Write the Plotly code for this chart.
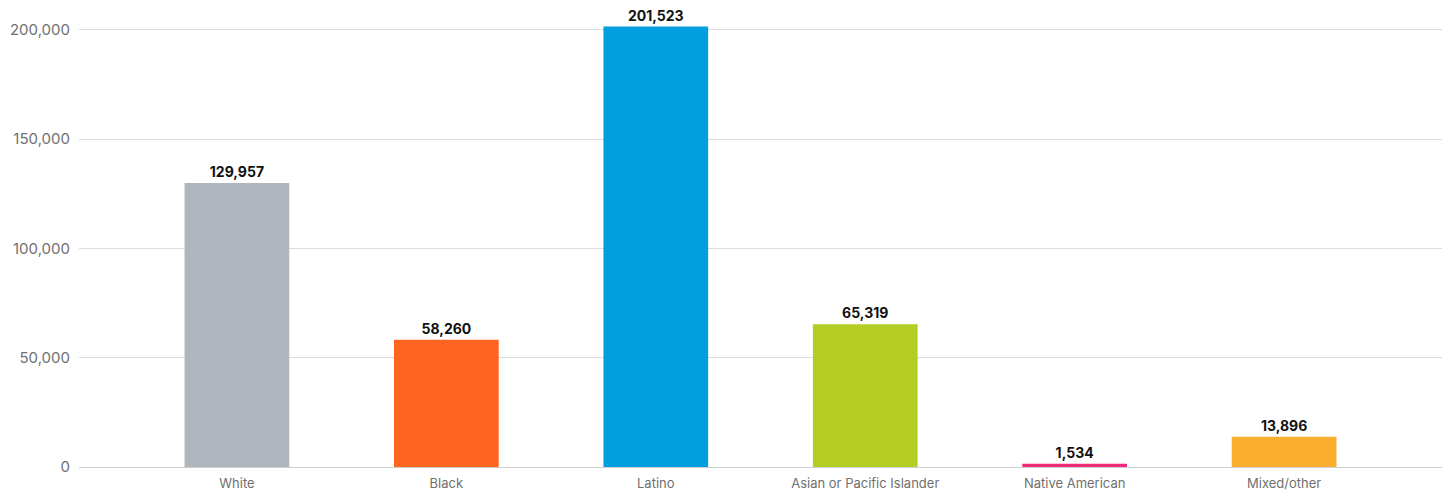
import plotly.graph_objects as go

categories = ["White", "Black", "Latino", "Asian or Pacific Islander", "Native American", "Mixed/other"]
values = [129957, 58260, 201523, 65319, 1534, 13896]
colors = ["#b1b5bd", "#ff6420", "#009fe0", "#b5cc22", "#ee2a7b", "#f9ae2f"]
y_ticks = [0, 50000, 100000, 150000, 200000]
y_tick_labels = ["0", "50,000", "100,000", "150,000", "200,000"]

fig = go.Figure(
    go.Bar(
        x=list(range(len(categories))),
        y=values,
        marker=dict(color=colors, line=dict(width=0)),
        width=0.5,
        text=[f"{v:,}" for v in values],
        textposition="outside",
        cliponaxis=False,
        textfont=dict(family="Inter", size=14, color="#111111", weight="bold"),
    )
)

fig.update_layout(
    width=1452,
    height=496,
    margin=dict(l=79, r=10, t=8, b=29),
    paper_bgcolor="white",
    plot_bgcolor="white",
    showlegend=False,
    bargap=0.5,
)

fig.update_xaxes(
    range=[-0.754, 5.754],
    tickvals=list(range(len(categories))),
    ticktext=categories,
    tickfont=dict(family="Inter", size=13, color="#707070"),
    showgrid=False,
    showline=False,
    zeroline=False,
    ticks="",
    ticklabelstandoff=7,
    automargin=False,
)

fig.update_yaxes(
    range=[0, 210000],
    tickvals=y_ticks,
    ticktext=y_tick_labels,
    tickfont=dict(family="Inter", size=15, color="#707070"),
    showgrid=True,
    gridcolor="#dcdcdc",
    gridwidth=1,
    zeroline=True,
    zerolinecolor="#cfcfcf",
    zerolinewidth=1,
    showline=False,
    ticks="",
    ticklabelstandoff=8,
    automargin=False,
)

fig.write_html("out.html")
